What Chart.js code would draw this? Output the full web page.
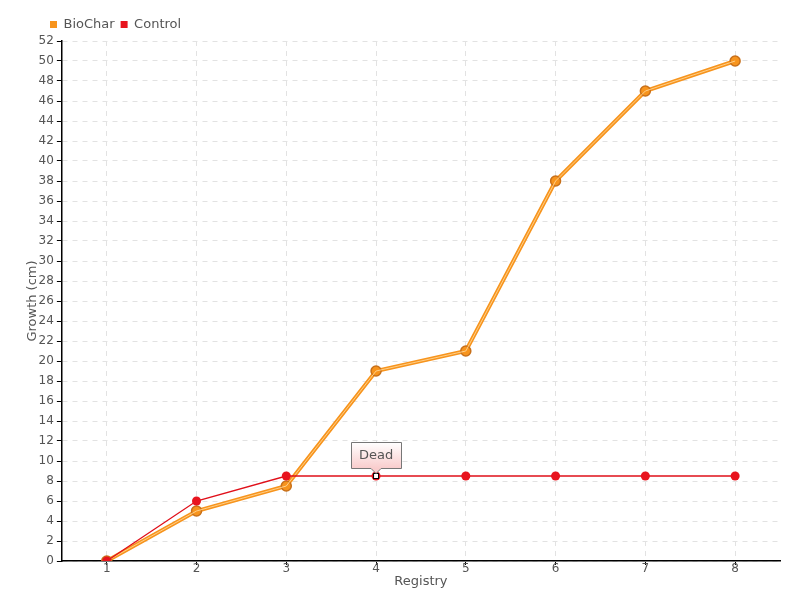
<!DOCTYPE html>
<html>
<head>
<meta charset="utf-8">
<script src="https://cdn.jsdelivr.net/npm/chart.js@4/dist/chart.umd.min.js"></script>
<style>
  html, body { margin: 0; padding: 0; background: #fff; }
  #wrap { width: 800px; height: 600px; }
</style>
</head>
<body>
<div id="wrap"><canvas id="chart" width="800" height="600"></canvas></div>
<script>
const registry = ['1', '2', '3', '4', '5', '6', '7', '8']
const biochar = [0, 5, 7.5, 19, 21, 38, 47, 50]
const control = [0, 6, 8.5, 8.5, 8.5, 8.5, 8.5, 8.5]
const deadIndex = 3
const deadLabel = 'Dead'

const FAMILY = '"DejaVu Sans", sans-serif'
const font = size => ({ family: FAMILY, size: size })

const decorations = {
    id: 'decorations',
    afterLayout (chart) {
        // legend starts in line with the y axis in the original
        chart.legend.left += 22
        chart.legend.right += 22
    },
    afterDatasetDraw (chart, args) {
        if (args.index !== 0) return
        // lighter stripe down the middle of the BioChar line
        const ctx = chart.ctx
        ctx.save()
        ctx.strokeStyle = 'rgba(255, 214, 150, 0.9)'
        ctx.lineWidth = 1
        ctx.beginPath()
        args.meta.data.forEach((p, i) => i ? ctx.lineTo(p.x, p.y) : ctx.moveTo(p.x, p.y))
        ctx.stroke()
        ctx.restore()
    },
    afterDatasetsDraw (chart) {
        const ctx = chart.ctx
        const p = chart.getDatasetMeta(1).data[deadIndex]
        ctx.save()
        ctx.fillStyle = '#fff'
        ctx.strokeStyle = '#000'
        ctx.lineWidth = 1
        ctx.fillRect(p.x - 2.5, p.y - 2.5, 5, 5)
        ctx.strokeRect(p.x - 2.5, p.y - 2.5, 5, 5)

        const w = 50, h = 26, bx = Math.round(p.x - w / 2) + 0.5, by = Math.round(p.y - 34) + 0.5
        const g = ctx.createLinearGradient(0, by, 0, by + h)
        g.addColorStop(0, '#ffffff')
        g.addColorStop(1, '#f9cccc')
        ctx.beginPath()
        ctx.moveTo(bx, by)
        ctx.lineTo(bx + w, by)
        ctx.lineTo(bx + w, by + h)
        ctx.lineTo(p.x + 5, by + h)
        ctx.lineTo(p.x, by + h + 5)
        ctx.lineTo(p.x - 5, by + h)
        ctx.lineTo(bx, by + h)
        ctx.closePath()
        ctx.fillStyle = g
        ctx.fill()
        ctx.strokeStyle = '#777'
        ctx.stroke()
        ctx.fillStyle = '#555'
        ctx.font = '13px ' + FAMILY
        ctx.textAlign = 'center'
        ctx.textBaseline = 'middle'
        ctx.fillText(deadLabel, p.x, by + h / 2)
        ctx.restore()
    }
}

const grid = {
    color: '#e2e2e2',
    tickColor: '#000',
    tickLength: 5,
    drawTicks: true
}

new Chart(document.getElementById('chart'), {
    type: 'line',
    data: {
        labels: registry,
        datasets: [
            {
                label: 'BioChar',
                data: biochar,
                order: 1,
                borderColor: '#f7941d',
                backgroundColor: '#f7941d',
                borderWidth: 4,
                pointRadius: 5,
                pointBackgroundColor: '#f7941d',
                pointBorderColor: '#c8701a',
                pointBorderWidth: 1.5,
                tension: 0
            },
            {
                label: 'Control',
                data: control,
                order: 0,
                borderColor: '#e0101a',
                backgroundColor: '#e8141e',
                borderWidth: 1.3,
                pointRadius: 4.5,
                pointBackgroundColor: '#e8141e',
                pointBorderColor: '#e8141e',
                pointBorderWidth: 0,
                tension: 0
            }
        ]
    },
    options: {
        responsive: false,
        animation: false,
        layout: { padding: { left: 22, right: 20, top: 12, bottom: 11 } },
        plugins: {
            tooltip: { enabled: false },
            legend: {
                position: 'top',
                align: 'start',
                labels: {
                    boxWidth: 7,
                    boxHeight: 7,
                    padding: 6,
                    color: '#555',
                    font: font(13),
                    sort: (a, b) => a.datasetIndex - b.datasetIndex,
                    generateLabels: chart => Chart.defaults.plugins.legend.labels.generateLabels(chart)
                        .map(l => Object.assign(l, { lineWidth: 0 }))
                }
            }
        },
        scales: {
            x: {
                offset: true,
                grid: Object.assign({}, grid, { offset: false, tickLength: 4 }),
                border: { color: '#000', width: 1.5, dash: [5, 5] },
                ticks: { color: '#555', font: font(12), padding: -3 },
                title: { display: true, text: 'Registry', color: '#555', font: font(13), padding: 0 }
            },
            y: {
                min: 0,
                max: 52,
                grid: grid,
                border: { color: '#000', width: 1.5, dash: [5, 5] },
                ticks: { stepSize: 2, autoSkip: false, color: '#555', font: font(12), padding: 3 },
                title: { display: true, text: 'Growth (cm)', color: '#555', font: font(13), padding: { top: 3, bottom: -5 } }
            }
        }
    },
    plugins: [decorations]
})
</script>
</body>
</html>
